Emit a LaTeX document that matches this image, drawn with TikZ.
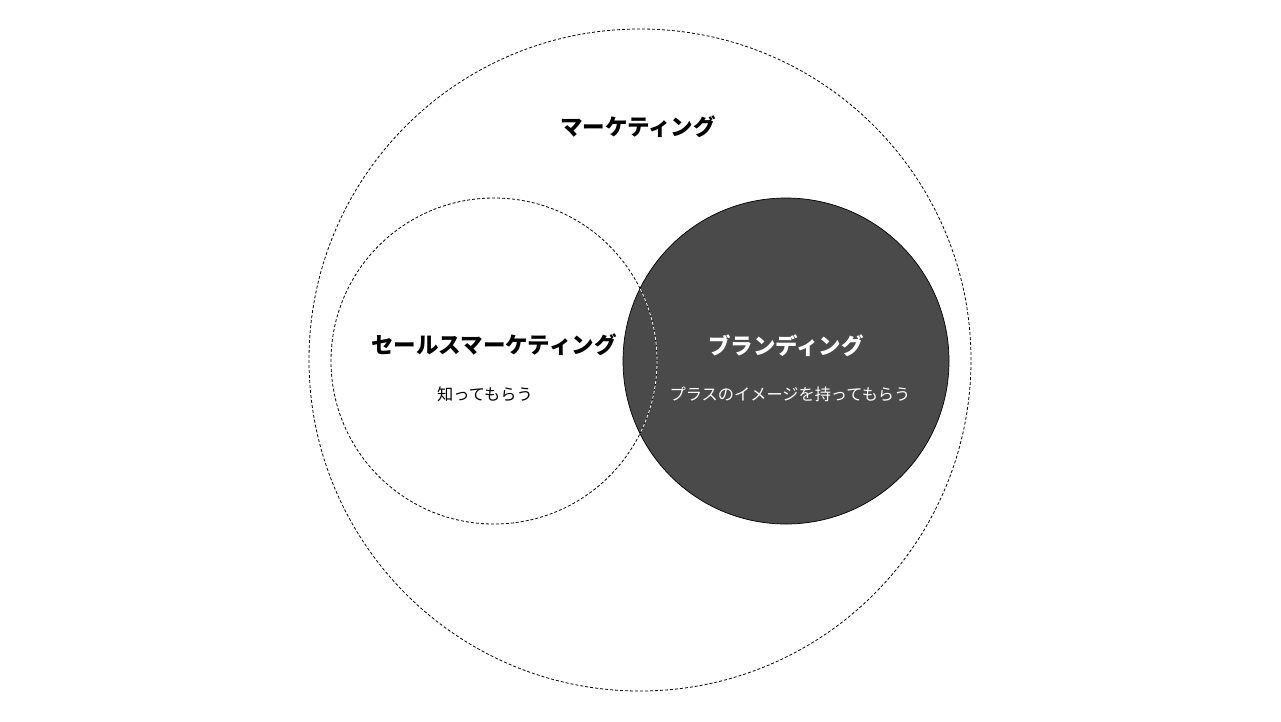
\documentclass[tikz,border=0pt]{standalone}
\usepackage{fontspec}
\newfontfamily\jpfont{Noto Sans CJK JP}
\tikzset{
  ring/.style={circle, draw, line width=0.8pt, dash pattern=on 3pt off 2pt, inner sep=0pt},
  title/.style={font=\jpfont\bfseries\fontsize{22.5}{26}\selectfont},
  sub/.style={font=\jpfont\fontsize{16.2}{19}\selectfont},
}
\begin{document}
\begin{tikzpicture}[x=1pt,y=-1pt]
		% Frame.
		\useasboundingbox[fill=white] (0,0) rectangle (1281,721);
		% Circles.
		\node[ring, minimum size=662pt] (marketing) at (640,360) {};
		\node[circle, draw, fill={rgb,255:red,74;green,74;blue,74}, line width=0.7pt, minimum size=326pt, inner sep=0pt] (branding) at (786,361) {};
		\node[ring, minimum size=326pt] (sales) at (494,361) {};
		\begin{scope}
			\clip (786,361) circle (163);
			\draw[white, line width=0.8pt, dash pattern=on 3pt off 2pt] (494,361) circle (163);
		\end{scope}
		% Labels.
		\node[title] (mtitle) at (638,127) {マーケティング};
		\node[title] (stitle) at (494,345) {セールスマーケティング};
		\node[sub] (stext) at (485,394) {知ってもらう};
		\node[title, text=white] (btitle) at (786,346) {ブランディング};
		\node[sub, text=white] (btext) at (790,394) {プラスのイメージを持ってもらう};
	\end{tikzpicture}
\end{document}
